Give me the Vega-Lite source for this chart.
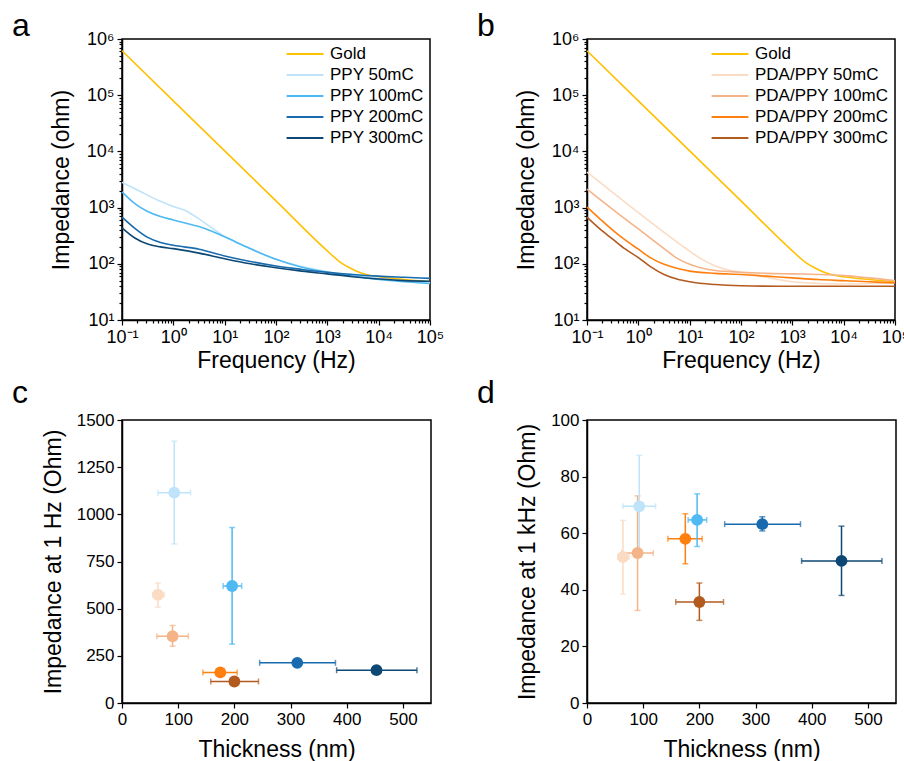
{
  "$schema": "https://vega.github.io/schema/vega-lite/v6.json",
  "padding": {"left": 11, "top": 9, "right": 0, "bottom": 0},
  "background": "white",
  "columns": 2,
  "spacing": {"row": 3, "column": 31},
  "datasets": {
    "eis": [
      {"series": "Gold", "group": "Gold", "freq": 0.1, "impedance": 616600},
      {"series": "Gold", "group": "Gold", "freq": 1, "impedance": 79430},
      {"series": "Gold", "group": "Gold", "freq": 10, "impedance": 10230},
      {"series": "Gold", "group": "Gold", "freq": 100, "impedance": 1318},
      {"series": "Gold", "group": "Gold", "freq": 1000, "impedance": 169.8},
      {"series": "Gold", "group": "Gold", "freq": 1778, "impedance": 107.2},
      {"series": "Gold", "group": "Gold", "freq": 3162, "impedance": 79.4},
      {"series": "Gold", "group": "Gold", "freq": 4467, "impedance": 69.2},
      {"series": "Gold", "group": "Gold", "freq": 6310, "impedance": 63.1},
      {"series": "Gold", "group": "Gold", "freq": 10000, "impedance": 58.9},
      {"series": "Gold", "group": "Gold", "freq": 31623, "impedance": 52.5},
      {"series": "Gold", "group": "Gold", "freq": 100000, "impedance": 47.9},

      {"series": "PPY 50mC", "group": "PPY", "freq": 0.1, "impedance": 2818},
      {"series": "PPY 50mC", "group": "PPY", "freq": 0.224, "impedance": 1950},
      {"series": "PPY 50mC", "group": "PPY", "freq": 0.5, "impedance": 1350},
      {"series": "PPY 50mC", "group": "PPY", "freq": 1, "impedance": 1047},
      {"series": "PPY 50mC", "group": "PPY", "freq": 1.778, "impedance": 871},
      {"series": "PPY 50mC", "group": "PPY", "freq": 3.162, "impedance": 631},
      {"series": "PPY 50mC", "group": "PPY", "freq": 5.623, "impedance": 437},
      {"series": "PPY 50mC", "group": "PPY", "freq": 10, "impedance": 305},
      {"series": "PPY 50mC", "group": "PPY", "freq": 31.62, "impedance": 189},
      {"series": "PPY 50mC", "group": "PPY", "freq": 100, "impedance": 120},
      {"series": "PPY 50mC", "group": "PPY", "freq": 316.2, "impedance": 89.1},
      {"series": "PPY 50mC", "group": "PPY", "freq": 1000, "impedance": 72.4},
      {"series": "PPY 50mC", "group": "PPY", "freq": 3162, "impedance": 63.1},
      {"series": "PPY 50mC", "group": "PPY", "freq": 10000, "impedance": 55.0},
      {"series": "PPY 50mC", "group": "PPY", "freq": 31623, "impedance": 49.0},
      {"series": "PPY 50mC", "group": "PPY", "freq": 100000, "impedance": 45.7},

      {"series": "PPY 100mC", "group": "PPY", "freq": 0.1, "impedance": 1905},
      {"series": "PPY 100mC", "group": "PPY", "freq": 0.178, "impedance": 1175},
      {"series": "PPY 100mC", "group": "PPY", "freq": 0.316, "impedance": 851},
      {"series": "PPY 100mC", "group": "PPY", "freq": 0.562, "impedance": 692},
      {"series": "PPY 100mC", "group": "PPY", "freq": 1, "impedance": 603},
      {"series": "PPY 100mC", "group": "PPY", "freq": 1.778, "impedance": 525},
      {"series": "PPY 100mC", "group": "PPY", "freq": 3.162, "impedance": 460},
      {"series": "PPY 100mC", "group": "PPY", "freq": 5.623, "impedance": 380},
      {"series": "PPY 100mC", "group": "PPY", "freq": 10, "impedance": 302},
      {"series": "PPY 100mC", "group": "PPY", "freq": 31.62, "impedance": 186},
      {"series": "PPY 100mC", "group": "PPY", "freq": 100, "impedance": 120},
      {"series": "PPY 100mC", "group": "PPY", "freq": 316.2, "impedance": 87.1},
      {"series": "PPY 100mC", "group": "PPY", "freq": 1000, "impedance": 70.8},
      {"series": "PPY 100mC", "group": "PPY", "freq": 3162, "impedance": 60.3},
      {"series": "PPY 100mC", "group": "PPY", "freq": 10000, "impedance": 52.5},
      {"series": "PPY 100mC", "group": "PPY", "freq": 31623, "impedance": 47.9},
      {"series": "PPY 100mC", "group": "PPY", "freq": 100000, "impedance": 44.7},

      {"series": "PPY 200mC", "group": "PPY", "freq": 0.1, "impedance": 676},
      {"series": "PPY 200mC", "group": "PPY", "freq": 0.178, "impedance": 427},
      {"series": "PPY 200mC", "group": "PPY", "freq": 0.316, "impedance": 295},
      {"series": "PPY 200mC", "group": "PPY", "freq": 0.562, "impedance": 240},
      {"series": "PPY 200mC", "group": "PPY", "freq": 1, "impedance": 214},
      {"series": "PPY 200mC", "group": "PPY", "freq": 3.162, "impedance": 182},
      {"series": "PPY 200mC", "group": "PPY", "freq": 10, "impedance": 138},
      {"series": "PPY 200mC", "group": "PPY", "freq": 31.62, "impedance": 110},
      {"series": "PPY 200mC", "group": "PPY", "freq": 100, "impedance": 91.2},
      {"series": "PPY 200mC", "group": "PPY", "freq": 316.2, "impedance": 79.4},
      {"series": "PPY 200mC", "group": "PPY", "freq": 1000, "impedance": 70.8},
      {"series": "PPY 200mC", "group": "PPY", "freq": 3162, "impedance": 64.6},
      {"series": "PPY 200mC", "group": "PPY", "freq": 10000, "impedance": 60.3},
      {"series": "PPY 200mC", "group": "PPY", "freq": 31623, "impedance": 57.5},
      {"series": "PPY 200mC", "group": "PPY", "freq": 100000, "impedance": 55.0},

      {"series": "PPY 300mC", "group": "PPY", "freq": 0.1, "impedance": 437},
      {"series": "PPY 300mC", "group": "PPY", "freq": 0.178, "impedance": 288},
      {"series": "PPY 300mC", "group": "PPY", "freq": 0.316, "impedance": 224},
      {"series": "PPY 300mC", "group": "PPY", "freq": 0.562, "impedance": 200},
      {"series": "PPY 300mC", "group": "PPY", "freq": 1, "impedance": 186},
      {"series": "PPY 300mC", "group": "PPY", "freq": 3.162, "impedance": 155},
      {"series": "PPY 300mC", "group": "PPY", "freq": 10, "impedance": 123},
      {"series": "PPY 300mC", "group": "PPY", "freq": 31.62, "impedance": 100},
      {"series": "PPY 300mC", "group": "PPY", "freq": 100, "impedance": 85.1},
      {"series": "PPY 300mC", "group": "PPY", "freq": 316.2, "impedance": 74.1},
      {"series": "PPY 300mC", "group": "PPY", "freq": 1000, "impedance": 66.1},
      {"series": "PPY 300mC", "group": "PPY", "freq": 3162, "impedance": 58.9},
      {"series": "PPY 300mC", "group": "PPY", "freq": 10000, "impedance": 53.7},
      {"series": "PPY 300mC", "group": "PPY", "freq": 31623, "impedance": 50.1},
      {"series": "PPY 300mC", "group": "PPY", "freq": 100000, "impedance": 49.0},

      {"series": "PDA/PPY 50mC", "group": "PDA/PPY", "freq": 0.1, "impedance": 4266},
      {"series": "PDA/PPY 50mC", "group": "PDA/PPY", "freq": 0.316, "impedance": 1862},
      {"series": "PDA/PPY 50mC", "group": "PDA/PPY", "freq": 1, "impedance": 813},
      {"series": "PDA/PPY 50mC", "group": "PDA/PPY", "freq": 3.162, "impedance": 363},
      {"series": "PDA/PPY 50mC", "group": "PDA/PPY", "freq": 7.943, "impedance": 195},
      {"series": "PDA/PPY 50mC", "group": "PDA/PPY", "freq": 15.85, "impedance": 126},
      {"series": "PDA/PPY 50mC", "group": "PDA/PPY", "freq": 31.62, "impedance": 91.2},
      {"series": "PDA/PPY 50mC", "group": "PDA/PPY", "freq": 56.23, "impedance": 77.6},
      {"series": "PDA/PPY 50mC", "group": "PDA/PPY", "freq": 100, "impedance": 70.8},
      {"series": "PDA/PPY 50mC", "group": "PDA/PPY", "freq": 316.2, "impedance": 57.5},
      {"series": "PDA/PPY 50mC", "group": "PDA/PPY", "freq": 1000, "impedance": 47.9},
      {"series": "PDA/PPY 50mC", "group": "PDA/PPY", "freq": 3162, "impedance": 44.7},
      {"series": "PDA/PPY 50mC", "group": "PDA/PPY", "freq": 10000, "impedance": 43.7},
      {"series": "PDA/PPY 50mC", "group": "PDA/PPY", "freq": 31623, "impedance": 44.7},
      {"series": "PDA/PPY 50mC", "group": "PDA/PPY", "freq": 100000, "impedance": 45.7},

      {"series": "PDA/PPY 100mC", "group": "PDA/PPY", "freq": 0.1, "impedance": 2138},
      {"series": "PDA/PPY 100mC", "group": "PDA/PPY", "freq": 0.316, "impedance": 933},
      {"series": "PDA/PPY 100mC", "group": "PDA/PPY", "freq": 1, "impedance": 417},
      {"series": "PDA/PPY 100mC", "group": "PDA/PPY", "freq": 3.162, "impedance": 186},
      {"series": "PDA/PPY 100mC", "group": "PDA/PPY", "freq": 5.623, "impedance": 126},
      {"series": "PDA/PPY 100mC", "group": "PDA/PPY", "freq": 10, "impedance": 97.7},
      {"series": "PDA/PPY 100mC", "group": "PDA/PPY", "freq": 17.78, "impedance": 83.2},
      {"series": "PDA/PPY 100mC", "group": "PDA/PPY", "freq": 31.62, "impedance": 75.9},
      {"series": "PDA/PPY 100mC", "group": "PDA/PPY", "freq": 100, "impedance": 70.8},
      {"series": "PDA/PPY 100mC", "group": "PDA/PPY", "freq": 316.2, "impedance": 67.6},
      {"series": "PDA/PPY 100mC", "group": "PDA/PPY", "freq": 1000, "impedance": 66.1},
      {"series": "PDA/PPY 100mC", "group": "PDA/PPY", "freq": 3162, "impedance": 64.6},
      {"series": "PDA/PPY 100mC", "group": "PDA/PPY", "freq": 10000, "impedance": 61.7},
      {"series": "PDA/PPY 100mC", "group": "PDA/PPY", "freq": 31623, "impedance": 56.2},
      {"series": "PDA/PPY 100mC", "group": "PDA/PPY", "freq": 100000, "impedance": 50.1},

      {"series": "PDA/PPY 200mC", "group": "PDA/PPY", "freq": 0.1, "impedance": 1023},
      {"series": "PDA/PPY 200mC", "group": "PDA/PPY", "freq": 0.178, "impedance": 631},
      {"series": "PDA/PPY 200mC", "group": "PDA/PPY", "freq": 0.316, "impedance": 398},
      {"series": "PDA/PPY 200mC", "group": "PDA/PPY", "freq": 0.562, "impedance": 263},
      {"series": "PDA/PPY 200mC", "group": "PDA/PPY", "freq": 1, "impedance": 182},
      {"series": "PDA/PPY 200mC", "group": "PDA/PPY", "freq": 1.778, "impedance": 126},
      {"series": "PDA/PPY 200mC", "group": "PDA/PPY", "freq": 3.162, "impedance": 97.7},
      {"series": "PDA/PPY 200mC", "group": "PDA/PPY", "freq": 5.623, "impedance": 83.2},
      {"series": "PDA/PPY 200mC", "group": "PDA/PPY", "freq": 10, "impedance": 74.1},
      {"series": "PDA/PPY 200mC", "group": "PDA/PPY", "freq": 31.62, "impedance": 67.6},
      {"series": "PDA/PPY 200mC", "group": "PDA/PPY", "freq": 100, "impedance": 64.6},
      {"series": "PDA/PPY 200mC", "group": "PDA/PPY", "freq": 316.2, "impedance": 60.3},
      {"series": "PDA/PPY 200mC", "group": "PDA/PPY", "freq": 1000, "impedance": 56.2},
      {"series": "PDA/PPY 200mC", "group": "PDA/PPY", "freq": 3162, "impedance": 52.5},
      {"series": "PDA/PPY 200mC", "group": "PDA/PPY", "freq": 10000, "impedance": 50.1},
      {"series": "PDA/PPY 200mC", "group": "PDA/PPY", "freq": 31623, "impedance": 47.9},
      {"series": "PDA/PPY 200mC", "group": "PDA/PPY", "freq": 100000, "impedance": 45.7},

      {"series": "PDA/PPY 300mC", "group": "PDA/PPY", "freq": 0.1, "impedance": 676},
      {"series": "PDA/PPY 300mC", "group": "PDA/PPY", "freq": 0.178, "impedance": 417},
      {"series": "PDA/PPY 300mC", "group": "PDA/PPY", "freq": 0.316, "impedance": 275},
      {"series": "PDA/PPY 300mC", "group": "PDA/PPY", "freq": 0.562, "impedance": 182},
      {"series": "PDA/PPY 300mC", "group": "PDA/PPY", "freq": 1, "impedance": 129},
      {"series": "PDA/PPY 300mC", "group": "PDA/PPY", "freq": 1.778, "impedance": 87.1},
      {"series": "PDA/PPY 300mC", "group": "PDA/PPY", "freq": 3.162, "impedance": 64.6},
      {"series": "PDA/PPY 300mC", "group": "PDA/PPY", "freq": 5.623, "impedance": 53.7},
      {"series": "PDA/PPY 300mC", "group": "PDA/PPY", "freq": 10, "impedance": 47.9},
      {"series": "PDA/PPY 300mC", "group": "PDA/PPY", "freq": 31.62, "impedance": 42.7},
      {"series": "PDA/PPY 300mC", "group": "PDA/PPY", "freq": 100, "impedance": 40.7},
      {"series": "PDA/PPY 300mC", "group": "PDA/PPY", "freq": 1000, "impedance": 39.8},
      {"series": "PDA/PPY 300mC", "group": "PDA/PPY", "freq": 10000, "impedance": 39.8},
      {"series": "PDA/PPY 300mC", "group": "PDA/PPY", "freq": 100000, "impedance": 39.8}
    ],
    "thick": [
      {"series": "PPY 50mC", "t": 93, "t_lo": 64, "t_hi": 122, "z1": 1115, "z1_lo": 843, "z1_hi": 1388, "zk": 69.5, "zk_lo": 51.5, "zk_hi": 87.5},
      {"series": "PPY 100mC", "t": 196, "t_lo": 180, "t_hi": 213, "z1": 620, "z1_lo": 312, "z1_hi": 930, "zk": 64.7, "zk_lo": 55.3, "zk_hi": 73.9},
      {"series": "PPY 200mC", "t": 312, "t_lo": 245, "t_hi": 380, "z1": 213, "z1_lo": 203, "z1_hi": 223, "zk": 63.2, "zk_lo": 60.8, "zk_hi": 65.8},
      {"series": "PPY 300mC", "t": 453, "t_lo": 382, "t_hi": 525, "z1": 174, "z1_lo": 166, "z1_hi": 182, "zk": 50.2, "zk_lo": 38, "zk_hi": 62.5},
      {"series": "PDA/PPY 50mC", "t": 64, "t_lo": 55, "t_hi": 75, "z1": 574, "z1_lo": 508, "z1_hi": 636, "zk": 51.6, "zk_lo": 38.5, "zk_hi": 64.5},
      {"series": "PDA/PPY 100mC", "t": 90, "t_lo": 62, "t_hi": 118, "z1": 354, "z1_lo": 301, "z1_hi": 411, "zk": 53, "zk_lo": 32.7, "zk_hi": 73.2},
      {"series": "PDA/PPY 200mC", "t": 175, "t_lo": 144, "t_hi": 205, "z1": 162, "z1_lo": 152, "z1_hi": 172, "zk": 58, "zk_lo": 49.2, "zk_hi": 66.9},
      {"series": "PDA/PPY 300mC", "t": 200, "t_lo": 158, "t_hi": 243, "z1": 114, "z1_lo": 106, "z1_hi": 122, "zk": 35.7, "zk_lo": 29.2, "zk_hi": 42.4}
    ]
  },
  "concat": [
    {
      "width": 308, "height": 281,
      "title": {"text": "a", "offset": -13},
      "data": {"name": "eis"},
      "transform": [{"filter": "datum.group != 'PDA/PPY'"}],
      "mark": {"type": "line", "strokeWidth": 1.6, "interpolate": "monotone"},
      "encoding": {
        "x": {"field": "freq", "type": "quantitative", "title": "Frequency (Hz)",
          "scale": {"type": "log", "domain": [0.1, 100000], "nice": false},
          "axis": {"values": [0.1,0.2,0.3,0.4,0.5,0.6,0.7,0.8,0.9,1,2,3,4,5,6,7,8,9,10,20,30,40,50,60,70,80,90,100,200,300,400,500,600,700,800,900,1000,2000,3000,4000,5000,6000,7000,8000,9000,10000,20000,30000,40000,50000,60000,70000,80000,90000,100000],
            "labelExpr": "abs(log(datum.value)/LN10 - round(log(datum.value)/LN10)) < 0.01 ? (round(log(datum.value)/LN10) < 0 ? '10⁻¹' : '10' + substring('⁰¹²³⁴⁵⁶', round(log(datum.value)/LN10), round(log(datum.value)/LN10) + 1)) : ''",
            "tickSize": {"condition": {"test": "abs(log(datum.value)/LN10 - round(log(datum.value)/LN10)) < 0.01", "value": 5}, "value": 3},
            "labelFontSize": 18, "titlePadding": 3}},
        "y": {"field": "impedance", "type": "quantitative", "title": "Impedance (ohm)",
          "scale": {"type": "log", "domain": [10, 1000000], "nice": false},
          "axis": {"values": [10,20,30,40,50,60,70,80,90,100,200,300,400,500,600,700,800,900,1000,2000,3000,4000,5000,6000,7000,8000,9000,10000,20000,30000,40000,50000,60000,70000,80000,90000,100000,200000,300000,400000,500000,600000,700000,800000,900000,1000000],
            "labelExpr": "abs(log(datum.value)/LN10 - round(log(datum.value)/LN10)) < 0.01 ? '10' + substring('⁰¹²³⁴⁵⁶', round(log(datum.value)/LN10), round(log(datum.value)/LN10) + 1) : ''",
            "tickSize": {"condition": {"test": "abs(log(datum.value)/LN10 - round(log(datum.value)/LN10)) < 0.01", "value": 5}, "value": 3},
            "labelFontSize": 18, "titlePadding": 13}},
        "color": {"field": "series", "type": "nominal",
          "scale": {"domain": ["Gold", "PPY 50mC", "PPY 100mC", "PPY 200mC", "PPY 300mC"], "range": ["#FFC000", "#BFE4FA", "#4FB9F2", "#176BAE", "#0D4773"]},
          "legend": {"title": null}}
      }
    },
    {
      "width": 308, "height": 281,
      "title": {"text": "b", "offset": -13},
      "data": {"name": "eis"},
      "transform": [{"filter": "datum.group != 'PPY'"}],
      "mark": {"type": "line", "strokeWidth": 1.6, "interpolate": "monotone"},
      "encoding": {
        "x": {"field": "freq", "type": "quantitative", "title": "Frequency (Hz)",
          "scale": {"type": "log", "domain": [0.1, 100000], "nice": false},
          "axis": {"values": [0.1,0.2,0.3,0.4,0.5,0.6,0.7,0.8,0.9,1,2,3,4,5,6,7,8,9,10,20,30,40,50,60,70,80,90,100,200,300,400,500,600,700,800,900,1000,2000,3000,4000,5000,6000,7000,8000,9000,10000,20000,30000,40000,50000,60000,70000,80000,90000,100000],
            "labelExpr": "abs(log(datum.value)/LN10 - round(log(datum.value)/LN10)) < 0.01 ? (round(log(datum.value)/LN10) < 0 ? '10⁻¹' : '10' + substring('⁰¹²³⁴⁵⁶', round(log(datum.value)/LN10), round(log(datum.value)/LN10) + 1)) : ''",
            "tickSize": {"condition": {"test": "abs(log(datum.value)/LN10 - round(log(datum.value)/LN10)) < 0.01", "value": 5}, "value": 3},
            "labelFontSize": 18, "titlePadding": 3}},
        "y": {"field": "impedance", "type": "quantitative", "title": "Impedance (ohm)",
          "scale": {"type": "log", "domain": [10, 1000000], "nice": false},
          "axis": {"values": [10,20,30,40,50,60,70,80,90,100,200,300,400,500,600,700,800,900,1000,2000,3000,4000,5000,6000,7000,8000,9000,10000,20000,30000,40000,50000,60000,70000,80000,90000,100000,200000,300000,400000,500000,600000,700000,800000,900000,1000000],
            "labelExpr": "abs(log(datum.value)/LN10 - round(log(datum.value)/LN10)) < 0.01 ? '10' + substring('⁰¹²³⁴⁵⁶', round(log(datum.value)/LN10), round(log(datum.value)/LN10) + 1) : ''",
            "tickSize": {"condition": {"test": "abs(log(datum.value)/LN10 - round(log(datum.value)/LN10)) < 0.01", "value": 5}, "value": 3},
            "labelFontSize": 18, "titlePadding": 13}},
        "color": {"field": "series", "type": "nominal",
          "scale": {"domain": ["Gold", "PDA/PPY 50mC", "PDA/PPY 100mC", "PDA/PPY 200mC", "PDA/PPY 300mC"], "range": ["#FFC000", "#FADCC4", "#F5B487", "#FF7F0F", "#B35A1F"]},
          "legend": {"title": null}}
      }
    },
    {
      "width": 309, "height": 283,
      "title": {"text": "c", "offset": 1},
      "data": {"name": "thick"},
      "layer": [
        {
          "mark": {"type": "errorbar", "ticks": {"size": 6}, "thickness": 1.5},
          "encoding": {
            "x": {"field": "t_lo", "type": "quantitative", "title": "Thickness (nm)", "scale": {"domain": [0, 550], "nice": false},
              "axis": {"values": [0,50,100,150,200,250,300,350,400,450,500], "labelExpr": "datum.value % 100 === 0 ? datum.label : ''",
                "tickSize": {"condition": {"test": "datum.value % 100 === 0", "value": 5}, "value": 3}, "titlePadding": 11}},
            "x2": {"field": "t_hi"},
            "y": {"field": "z1", "type": "quantitative", "title": "Impedance at 1 Hz (Ohm)", "scale": {"domain": [0, 1500], "nice": false},
              "axis": {"values": [0,125,250,375,500,625,750,875,1000,1125,1250,1375,1500], "format": "d", "labelExpr": "datum.value % 250 === 0 ? datum.label : ''",
                "tickSize": {"condition": {"test": "datum.value % 250 === 0", "value": 5}, "value": 3}, "titlePadding": 11}},
            "color": {"field": "series", "type": "nominal", "legend": null,
              "scale": {"domain": ["PPY 50mC", "PPY 100mC", "PPY 200mC", "PPY 300mC", "PDA/PPY 50mC", "PDA/PPY 100mC", "PDA/PPY 200mC", "PDA/PPY 300mC"], "range": ["#BFE4FA", "#4FB9F2", "#176BAE", "#0D4773", "#FADCC4", "#F5B487", "#FF7F0F", "#B35A1F"]}}
          }
        },
        {
          "mark": {"type": "errorbar", "ticks": {"size": 6}, "thickness": 1.5},
          "encoding": {
            "x": {"field": "t", "type": "quantitative", "title": "Thickness (nm)"},
            "y": {"field": "z1_lo", "type": "quantitative", "title": "Impedance at 1 Hz (Ohm)"},
            "y2": {"field": "z1_hi"},
            "color": {"field": "series", "type": "nominal", "legend": null}
          }
        },
        {
          "mark": {"type": "point", "filled": true, "size": 140, "opacity": 1},
          "encoding": {
            "x": {"field": "t", "type": "quantitative", "title": "Thickness (nm)"},
            "y": {"field": "z1", "type": "quantitative", "title": "Impedance at 1 Hz (Ohm)"},
            "color": {"field": "series", "type": "nominal", "legend": null}
          }
        }
      ]
    },
    {
      "width": 309, "height": 283,
      "title": {"text": "d", "offset": 1},
      "data": {"name": "thick"},
      "layer": [
        {
          "mark": {"type": "errorbar", "ticks": {"size": 6}, "thickness": 1.5},
          "encoding": {
            "x": {"field": "t_lo", "type": "quantitative", "title": "Thickness (nm)", "scale": {"domain": [0, 550], "nice": false},
              "axis": {"values": [0,50,100,150,200,250,300,350,400,450,500], "labelExpr": "datum.value % 100 === 0 ? datum.label : ''",
                "tickSize": {"condition": {"test": "datum.value % 100 === 0", "value": 5}, "value": 3}, "titlePadding": 11}},
            "x2": {"field": "t_hi"},
            "y": {"field": "zk", "type": "quantitative", "title": "Impedance at 1 kHz (Ohm)", "scale": {"domain": [0, 100], "nice": false},
              "axis": {"values": [0,10,20,30,40,50,60,70,80,90,100], "labelExpr": "datum.value % 20 === 0 ? datum.label : ''",
                "tickSize": {"condition": {"test": "datum.value % 20 === 0", "value": 5}, "value": 3}, "titlePadding": 11}},
            "color": {"field": "series", "type": "nominal", "legend": null,
              "scale": {"domain": ["PPY 50mC", "PPY 100mC", "PPY 200mC", "PPY 300mC", "PDA/PPY 50mC", "PDA/PPY 100mC", "PDA/PPY 200mC", "PDA/PPY 300mC"], "range": ["#BFE4FA", "#4FB9F2", "#176BAE", "#0D4773", "#FADCC4", "#F5B487", "#FF7F0F", "#B35A1F"]}}
          }
        },
        {
          "mark": {"type": "errorbar", "ticks": {"size": 6}, "thickness": 1.5},
          "encoding": {
            "x": {"field": "t", "type": "quantitative", "title": "Thickness (nm)"},
            "y": {"field": "zk_lo", "type": "quantitative", "title": "Impedance at 1 kHz (Ohm)"},
            "y2": {"field": "zk_hi"},
            "color": {"field": "series", "type": "nominal", "legend": null}
          }
        },
        {
          "mark": {"type": "point", "filled": true, "size": 140, "opacity": 1},
          "encoding": {
            "x": {"field": "t", "type": "quantitative", "title": "Thickness (nm)"},
            "y": {"field": "zk", "type": "quantitative", "title": "Impedance at 1 kHz (Ohm)"},
            "color": {"field": "series", "type": "nominal", "legend": null}
          }
        }
      ]
    }
  ],
  "resolve": {"scale": {"color": "independent", "x": "independent", "y": "independent"}, "legend": {"color": "independent"}},
  "config": {
    "font": "Liberation Sans",
    "view": {"stroke": "black", "strokeWidth": 1.5},
    "axis": {"domainColor": "black", "domainWidth": 1.5, "tickColor": "black", "tickWidth": 1.2, "labelFontSize": 17, "labelColor": "black", "labelFont": "Liberation Sans", "titleFont": "Liberation Sans", "titleFontSize": 23, "titleFontWeight": "normal", "titleColor": "black", "grid": false, "labelOverlap": false, "labelFlush": false, "labelBound": false, "labelPadding": 3},
    "legend": {"orient": "top-right", "offset": 6, "padding": 0, "labelFontSize": 17, "labelFont": "Liberation Sans", "labelColor": "black", "symbolType": "M-2.3,0H2.3", "symbolSize": 256, "symbolStrokeWidth": 2, "labelOffset": 16, "rowPadding": 4},
    "title": {"anchor": "start", "frame": "group", "dx": -110, "fontSize": 32, "font": "Liberation Sans", "fontWeight": "normal", "color": "black", "baseline": "alphabetic"}
  }
}
